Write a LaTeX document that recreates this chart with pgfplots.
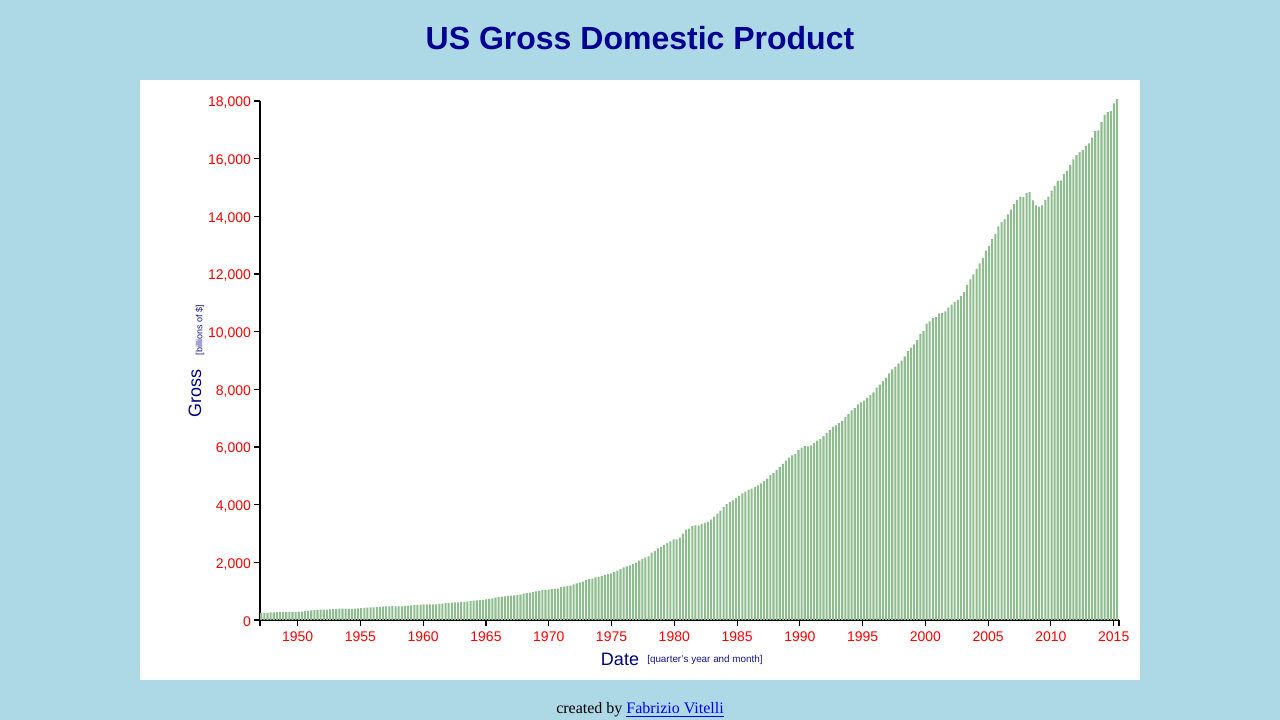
\documentclass[border=0pt]{standalone}
\usepackage{pgfplots}
\usepackage{pgfplotstable}
\pgfplotsset{compat=1.18}
\usepackage{fontspec}
\setmainfont{Liberation Sans}
\newfontfamily\timesfont{Liberation Serif}
\definecolor{bgblue}{RGB}{173,216,230}
\definecolor{barg}{RGB}{143,188,143}
\definecolor{titleblue}{RGB}{0,0,145}
\definecolor{labnavy}{RGB}{0,0,128}
\definecolor{smallnavy}{RGB}{20,20,150}
\definecolor{linkblue}{RGB}{0,0,238}

\pgfplotstableread[row sep=\\]{
gdp\\
243.1\\246.3\\250.1\\260.3\\
266.2\\272.9\\279.5\\280.7\\
275.4\\271.7\\273.3\\271.0\\
281.2\\290.7\\308.5\\320.3\\
336.4\\344.5\\351.8\\356.6\\
360.2\\361.4\\368.1\\381.2\\
388.5\\392.3\\391.7\\386.5\\
385.9\\386.7\\391.6\\400.3\\
413.8\\422.2\\430.9\\437.8\\
440.5\\446.8\\452.0\\461.3\\
470.6\\472.8\\480.3\\475.7\\
468.4\\472.8\\486.7\\500.4\\
511.1\\524.2\\525.2\\529.3\\
543.3\\542.7\\546.0\\541.1\\
545.9\\557.4\\568.2\\581.6\\
595.2\\602.6\\609.6\\613.1\\
622.7\\631.8\\645.0\\654.8\\
671.1\\680.8\\692.8\\698.4\\
719.2\\732.4\\750.2\\773.1\\
797.3\\807.2\\820.8\\834.9\\
846.0\\851.1\\866.6\\883.2\\
911.1\\936.3\\952.3\\970.1\\
995.4\\1011.4\\1032.0\\1040.7\\
1053.5\\1070.1\\1088.5\\1091.5\\
1137.8\\1159.4\\1180.3\\1193.6\\
1233.8\\1270.1\\1293.8\\1332.0\\
1380.7\\1417.6\\1436.8\\1479.1\\
1494.7\\1534.2\\1563.4\\1603.0\\
1619.6\\1656.4\\1713.8\\1765.9\\
1824.5\\1856.9\\1890.5\\1938.4\\
1992.5\\2060.2\\2122.4\\2168.7\\
2208.7\\2336.6\\2398.9\\2482.2\\
2531.6\\2595.9\\2670.4\\2730.7\\
2796.5\\2799.9\\2860.0\\2993.5\\
3131.8\\3167.3\\3261.2\\3283.5\\
3273.8\\3331.3\\3367.1\\3407.8\\
3480.3\\3583.8\\3692.3\\3796.1\\
3912.8\\4015.0\\4087.4\\4147.6\\
4237.0\\4302.3\\4394.6\\4453.1\\
4516.3\\4555.2\\4619.6\\4669.4\\
4736.2\\4821.5\\4900.5\\5022.7\\
5090.6\\5207.7\\5299.5\\5412.7\\
5527.4\\5628.4\\5711.6\\5763.4\\
5890.8\\5974.7\\6029.5\\6023.3\\
6054.9\\6143.6\\6218.4\\6279.3\\
6380.8\\6492.3\\6586.5\\6697.6\\
6748.2\\6829.6\\6904.2\\7032.8\\
7136.3\\7269.8\\7352.3\\7476.7\\
7545.3\\7604.9\\7706.5\\7799.5\\
7893.1\\8061.5\\8159.0\\8287.1\\
8402.1\\8551.9\\8691.8\\8788.3\\
8889.7\\8994.7\\9146.5\\9325.7\\
9447.1\\9557.0\\9712.3\\9926.1\\
10031.0\\10278.3\\10357.4\\10472.3\\
10508.1\\10638.4\\10639.5\\10701.3\\
10834.4\\10934.8\\11037.1\\11103.8\\
11230.1\\11370.7\\11625.1\\11816.8\\
11988.4\\12181.4\\12367.7\\12562.2\\
12813.7\\12974.1\\13205.4\\13381.6\\
13648.9\\13799.8\\13908.5\\14066.4\\
14233.2\\14422.3\\14569.7\\14685.3\\
14668.4\\14813.0\\14843.0\\14549.9\\
14383.9\\14340.4\\14384.1\\14566.5\\
14681.1\\14888.6\\15057.7\\15230.2\\
15238.4\\15460.9\\15587.1\\15785.3\\
15973.9\\16121.9\\16227.9\\16297.3\\
16440.7\\16526.8\\16727.5\\16957.6\\
16984.3\\17270.0\\17522.1\\17615.9\\
17649.3\\17913.7\\18064.7\\
}\gdpdata

\begin{document}
\begin{tikzpicture}[x=0.75pt,y=0.75pt]
% background and white panel (pixel coords, y measured from bottom)
\fill[bgblue] (0,0) rectangle (1280,720);
\fill[white] (140,40) rectangle (1140,640);

\begin{axis}[
  at={(195pt,75pt)}, anchor=south west,
  scale only axis,
  width=644.25pt, height=389.25pt,
  xmin=1947, xmax=2015.42,
  ymin=0, ymax=18000,
  clip=false,
  axis x line*=bottom, axis y line*=left,
  axis line style={black, line width=0.8pt, -},
  tick align=outside,
  major tick length=4.5pt,
  tick style={black, line width=0.8pt},
  xtick={1950,1955,1960,1965,1970,1975,1980,1985,1990,1995,2000,2005,2010,2015},
  xticklabels={1950,1955,1960,1965,1970,1975,1980,1985,1990,1995,2000,2005,2010,2015},
  extra x ticks={1947,2015.42},
  extra x tick labels={},
  ytick={0,2000,4000,6000,8000,10000,12000,14000,16000,18000},
  scaled y ticks=false,
  /pgf/number format/assume math mode=true,
  /pgf/number format/fixed,
  /pgf/number format/1000 sep={,},
  tick label style={text=red, font=\fontsize{10.5}{12}\selectfont},
  xticklabel style={yshift=-1pt},
  yticklabel style={xshift=1.2pt, yshift=-1.5pt},
]
\addplot[ybar, bar width=0.165, bar shift=0pt, fill=barg, draw=none]
  table[x expr={1947+0.2488*(\coordindex+0.4)}, y=gdp]{\gdpdata};
\end{axis}

% title
\node[font=\fontsize{24}{28}\selectfont\bfseries, text=titleblue, inner sep=0]
  at (640,682) {US Gross Domestic Product};
% y labels
\node[rotate=90, font=\fontsize{13.5}{16}\selectfont, text=labnavy, inner sep=0]
  at (195,326) {Gross};
\node[rotate=90, font=\fontsize{6.75}{8}\selectfont, text=smallnavy, inner sep=0]
  at (200,390) {[billions of \$]};
% x labels
\node[font=\fontsize{13.5}{16}\selectfont, text=labnavy, inner sep=0]
  at (620,61) {Date};
\node[anchor=west, font=\fontsize{7.4}{9}\selectfont, text=smallnavy, inner sep=0]
  at (647,60) {[quarter's year and month]};
% footer
\node[font=\timesfont\fontsize{12}{14}\selectfont, inner sep=0]
  at (640,10) {created by \textcolor{linkblue}{\underline{Fabrizio Vitelli}}};
\end{tikzpicture}
\end{document}
